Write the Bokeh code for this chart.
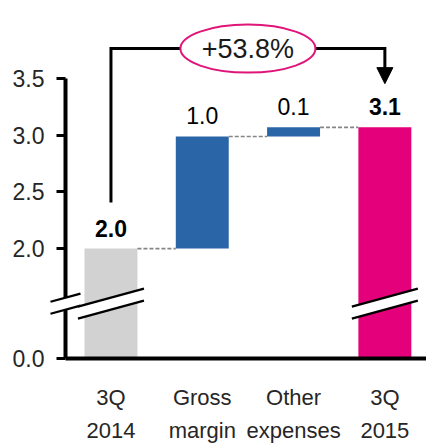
from bokeh.plotting import figure
from bokeh.models import FixedTicker, Range1d, Arrow, NormalHead, ColumnDataSource
from bokeh.embed import file_html
from bokeh.resources import INLINE
from bokeh.core.properties import value

# ---------------- data ----------------
categories = ["3Q\n2014", "Gross\nmargin", "Other\nexpenses", "3Q\n2015"]
steps = [2.0, 0.99, 0.08, 3.07]
kinds = ["total", "delta", "delta", "total"]
value_labels = ["2.0", "1.0", "0.1", "3.1"]
label_styles = ["bold", "normal", "normal", "bold"]
bar_colors = ["#d2d2d2", "#2a65a8", "#2a65a8", "#e3007a"]
y_ticks = [0.0, 2.0, 2.5, 3.0, 3.5]
y_tick_labels = ["0.0", "2.0", "2.5", "3.0", "3.5"]
change_label = "+53.8%"

FONT = "Liberation Sans"
TXT = "#262626"
FS = "23px"

# ---------------- broken axis transform ----------------
BREAK_AT = 2.0      # values below are compressed
ZERO_DISP = 1.03    # where 0.0 sits on the display axis


def disp(v):
    return v if v >= BREAK_AT else ZERO_DISP + v * (BREAK_AT - ZERO_DISP) / BREAK_AT


# geometry of the frame
W, H = 426, 444
ML, MB = 65, 86
FW, FH = W - ML, H - MB
PX_Y = 113.3
Y_TOP = ZERO_DISP + FH / PX_Y
X0, X1 = -0.498, 3.456
PX_X = FW / (X1 - X0)

# waterfall bottoms/tops
bottoms, tops, running = [], [], 0.0
for k, s in zip(kinds, steps):
    if k == "total":
        b, t = 0.0, s
    else:
        b, t = running, running + s
    running = t
    bottoms.append(b)
    tops.append(t)

xs = list(range(len(categories)))
BW = 0.58

p = figure(width=W, height=H, x_range=Range1d(X0, X1), y_range=Range1d(ZERO_DISP, Y_TOP),
           output_backend="svg", toolbar_location=None,
           min_border_left=ML, min_border_right=0, min_border_top=0, min_border_bottom=MB)
p.outline_line_color = None
p.xgrid.visible = False
p.ygrid.visible = False
p.background_fill_color = "white"

# bars
p.vbar(x=xs, bottom=[disp(b) for b in bottoms], top=[disp(t) for t in tops],
       width=BW, fill_color=bar_colors, line_color=None)

# connectors
cx0, cx1, cy = [], [], []
for i in range(len(xs) - 1):
    cx0.append(xs[i] + BW / 2)
    cx1.append(xs[i + 1] - BW / 2)
    cy.append(disp(tops[i]))
p.segment(x0=cx0, y0=cy, x1=cx1, y1=cy, line_color="#858585", line_width=1.6, line_dash="4 2")

# value labels
src = ColumnDataSource(dict(x=xs, y=[disp(t) for t in tops], text=value_labels, style=label_styles))
p.text(x="x", y="y", text="text", source=src, text_font=value(FONT), text_font_size=FS,
       text_font_style="style", text_color="black", text_align="center",
       text_baseline="alphabetic", y_offset=-20.5)

# break marks
BREAK_C = 1.514
gap = 6 / PX_Y


def break_shapes(xc, half_px):
    hl = half_px / PX_X
    rise = half_px * 0.273 / PX_Y
    poly_x = [xc - hl, xc + hl, xc + hl, xc - hl]
    poly_y = [BREAK_C + gap - rise, BREAK_C + gap + rise, BREAK_C - gap + rise, BREAK_C - gap - rise]
    lines = [([xc - hl, xc + hl], [BREAK_C + gap - rise, BREAK_C + gap + rise]),
             ([xc - hl, xc + hl], [BREAK_C - gap - rise, BREAK_C - gap + rise])]
    return poly_x, poly_y, lines


pxs, pys, lxs, lys = [], [], [], []
for i, b in enumerate(bottoms):
    if b < BREAK_AT and tops[i] > BREAK_AT - 0.5:
        a, c, ls = break_shapes(xs[i], 33)
        pxs.append(a); pys.append(c)
        for lx, ly in ls:
            lxs.append(lx); lys.append(ly)
a, c, ls = break_shapes(X0, 15)
pxs.append(a); pys.append(c)
for lx, ly in ls:
    lxs.append(lx); lys.append(ly)
p.patches(xs=pxs, ys=pys, fill_color="white", line_color=None, level="overlay")
p.multi_line(xs=lxs, ys=lys, line_color="black", line_width=2.2, level="overlay")

# bracket with change label
BR_Y = 3.765
p.line(x=[xs[0], xs[0], xs[-1], xs[-1]], y=[2.406, BR_Y, BR_Y, 3.589],
       line_color="black", line_width=3, line_join="miter")
p.add_layout(Arrow(end=NormalHead(size=16, fill_color="black", line_color="black", line_width=1),
                   x_start=xs[-1], y_start=3.60, x_end=xs[-1], y_end=3.456, line_alpha=0))
mid = (xs[1] + xs[2]) / 2
p.ellipse(x=[mid], y=[BR_Y], width=[135], height=[48], width_units="screen", height_units="screen",
          fill_color="white", line_color="#e0157a", line_width=2)
p.text(x=[mid], y=[BR_Y], text=[change_label], text_font=value(FONT), text_font_size="27px",
       text_color="#1a1a1a", text_align="center", text_baseline="middle")

# category labels (two rows under the baseline)
row1 = [c.split("\n")[0] for c in categories]
row2 = [c.split("\n")[1] for c in categories]
for row, off in ((row1, 39), (row2, 72)):
    p.text(x=xs, y=[ZERO_DISP] * len(xs), text=row, text_font=value(FONT), text_font_size="22px",
           text_color=TXT, text_align="center", text_baseline="alphabetic", y_offset=off,
           level="overlay")

# axes
ya = p.yaxis[0]
ya.ticker = FixedTicker(ticks=[disp(t) for t in y_ticks])
ya.major_label_overrides = {disp(t): lab for t, lab in zip(y_ticks, y_tick_labels)}
ya.bounds = (ZERO_DISP, 3.5)
ya.axis_line_width = 4
ya.axis_line_color = "black"
ya.major_tick_line_width = 3
ya.major_tick_line_color = "black"
ya.major_tick_out = 9
ya.major_tick_in = 0
ya.minor_tick_line_color = None
ya.major_label_standoff = 12
ya.major_label_text_font = FONT
ya.major_label_text_font_size = FS
ya.major_label_text_color = TXT

xa = p.xaxis[0]
xa.ticker = FixedTicker(ticks=[])
xa.axis_line_width = 4
xa.axis_line_color = "black"
xa.major_tick_line_color = None
xa.minor_tick_line_color = None
xa.major_label_text_font_size = "0px"

open("out.html", "w").write(file_html(p, INLINE))
